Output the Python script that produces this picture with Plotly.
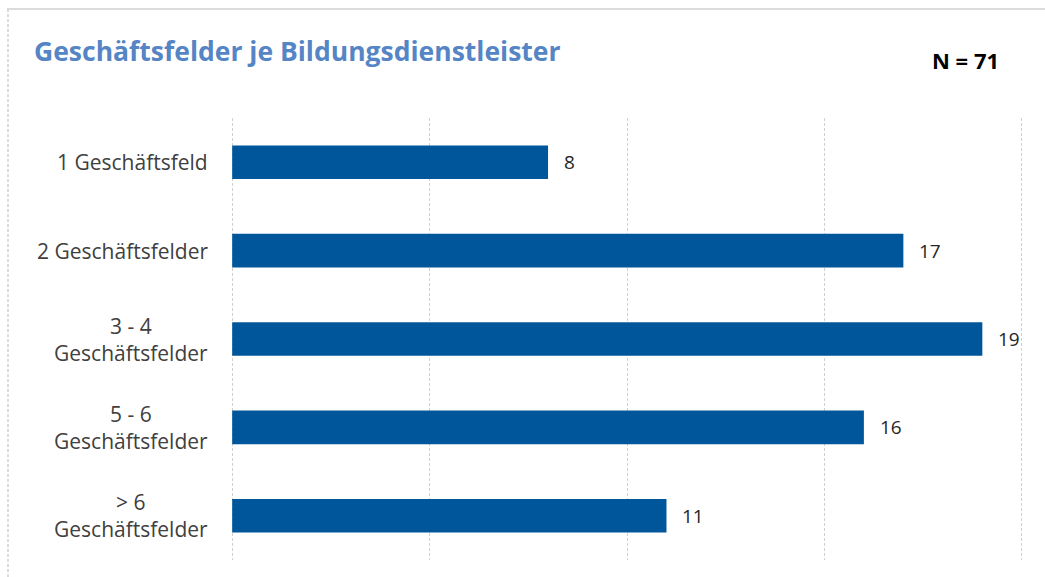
import plotly.graph_objects as go

categories = ["1 Geschäftsfeld", "2 Geschäftsfelder", "3 - 4<br>Geschäftsfelder",
              "5 - 6<br>Geschäftsfelder", "> 6<br>Geschäftsfelder"]
values = [8, 17, 19, 16, 11]
title_text = "Geschäftsfelder je Bildungsdienstleister"
n_text = "N = 71"

W, H = 1045, 577
L, R, T, B = 231, 22, 118, 17
pw, ph = W - L - R, H - T - B

def px_x(p):
    return (p - L) / pw

def px_y(p):
    return 1 - (p - T) / ph

BAR = "#00569A"
GRID = "#D0D0D0"
LABEL_FONT = dict(family="Open Sans", size=21, color="#404040")

fig = go.Figure(go.Bar(
    x=values, y=categories, orientation="h",
    marker=dict(color=BAR, line=dict(width=0)),
    width=0.38, hoverinfo="skip",
))

annotations = []
for cat, v in zip(categories, values):
    annotations.append(dict(x=v, y=cat, xref="x", yref="y", text=str(v),
                            showarrow=False, xanchor="left", xshift=14,
                            font=dict(family="Open Sans", size=19, color="#262626")))
    annotations.append(dict(x=0, y=cat, xref="x", yref="y", text=cat,
                            align="center", showarrow=False, xanchor="right",
                            xshift=-22, font=LABEL_FONT))

annotations.append(dict(x=px_x(965), y=px_y(60), xref="paper", yref="paper",
                        text=f"<b>{n_text}</b>", showarrow=False,
                        xanchor="center", yanchor="middle",
                        font=dict(family="Open Sans", size=22, color="#000000")))

shapes = [
    dict(type="line", xref="paper", yref="paper", x0=px_x(7), x1=px_x(1060),
         y0=px_y(9), y1=px_y(9), line=dict(color=GRID, width=1.5)),
    dict(type="line", xref="paper", yref="paper", x0=px_x(8), x1=px_x(8),
         y0=px_y(9), y1=px_y(590), line=dict(color=GRID, width=1.5, dash="3px,2px")),
]

fig.update_layout(
    width=W, height=H,
    margin=dict(l=L, r=R, t=T, b=B, pad=0),
    paper_bgcolor="white", plot_bgcolor="white",
    showlegend=False,
    title=dict(text=f"<b>{title_text}</b>", xref="container", yref="container",
               x=34 / W, xanchor="left", y=1 - 52 / H, yanchor="middle",
               font=dict(family="Open Sans", size=26.5, color="#5585C5")),
    xaxis=dict(range=[-0.03, 20.03], tick0=0, dtick=5, showgrid=True, gridcolor=GRID,
               griddash="3px,2px", gridwidth=1, zeroline=False, showticklabels=False,
               showline=False, ticks="", fixedrange=True),
    yaxis=dict(autorange="reversed", showticklabels=False, showgrid=False,
               zeroline=False, showline=False, ticks="", fixedrange=True),
    annotations=annotations,
    shapes=shapes,
    bargap=0.62,
)

fig.write_html("out.html", config=dict(displayModeBar=False, staticPlot=True),
               post_script="document.body.style.margin='0';document.body.style.overflow='hidden';")
